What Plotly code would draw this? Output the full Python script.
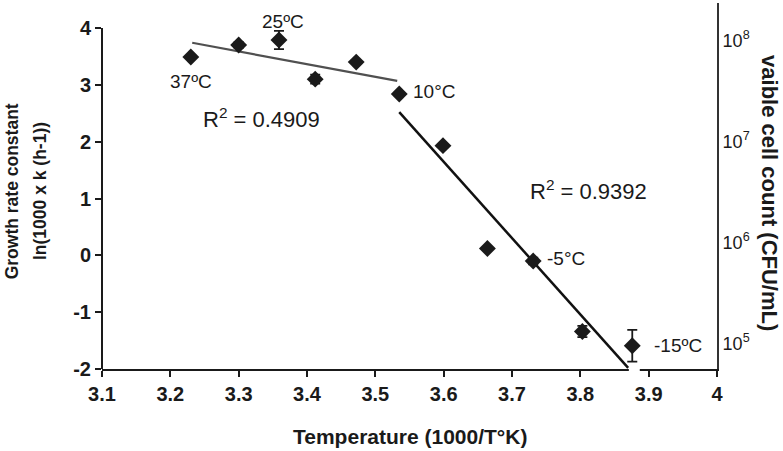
import plotly.graph_objects as go

# 1000/T (K) against ln(1000 x k)
inv_temp = [3.230, 3.300, 3.359, 3.412, 3.472, 3.535, 3.599, 3.664, 3.731, 3.803, 3.876]
ln_rate = [3.49, 3.70, 3.79, 3.10, 3.40, 2.84, 1.93, 0.12, -0.10, -1.34, -1.59]
rate_err = [0, 0.05, 0.16, 0.08, 0, 0, 0, 0, 0.06, 0.10, 0.28]

# labelled points: index, text, anchor, xshift, yshift
point_labels = [
    (0, '37ºC', 'center', 0, -25),
    (2, '25ºC', 'center', 4, 18),
    (5, '10°C', 'left', 12, 2),
    (8, '-5°C', 'left', 12, 3),
    (10, '-15ºC', 'left', 20, 0),
]

# trend line end points
fit_warm_x = [3.232, 3.532]
fit_warm_y = [3.74, 3.07]
fit_cold_x = [3.535, 3.870]
fit_cold_y = [2.52, -1.98]
r2_text = ['R<sup>2</sup> = 0.4909', 'R<sup>2</sup> = 0.9392']
r2_pos = [(3.333, 2.42), (3.812, 1.15)]

x_ticks = [3.1, 3.2, 3.3, 3.4, 3.5, 3.6, 3.7, 3.8, 3.9, 4.0]
x_tick_text = ['3.1', '3.2', '3.3', '3.4', '3.5', '3.6', '3.7', '3.8', '3.9', '4']
y_ticks = [-2, -1, 0, 1, 2, 3, 4]
y_tick_text = ['-2', '-1', '0', '1', '2', '3', '4']
count_ticks = [1e5, 1e6, 1e7, 1e8]
count_tick_text = ['10<sup>5</sup>', '10<sup>6</sup>', '10<sup>7</sup>', '10<sup>8</sup>']

FONT = 'Liberation Sans, Arial, sans-serif'
INK = '#1a1a1a'

fig = go.Figure()
fig.add_trace(go.Scatter(x=fit_warm_x, y=fit_warm_y, mode='lines',
                         line=dict(color='#505050', width=2.2), showlegend=False))
fig.add_trace(go.Scatter(x=fit_cold_x, y=fit_cold_y, mode='lines',
                         line=dict(color='#111111', width=2.5), showlegend=False))
fig.add_trace(go.Scatter(
    x=inv_temp, y=ln_rate, mode='markers',
    marker=dict(symbol='diamond', size=13, color=INK),
    error_y=dict(type='data', array=rate_err, visible=True, color=INK, thickness=1.8, width=5),
    showlegend=False,
))
# empty trace so the right-hand log axis is drawn
fig.add_trace(go.Scatter(x=[], y=[], yaxis='y2', showlegend=False))

for i, text, anchor, dx, dy in point_labels:
    fig.add_annotation(x=inv_temp[i], y=ln_rate[i], text=text, showarrow=False,
                       xanchor=anchor, xshift=dx, yshift=dy,
                       font=dict(family=FONT, size=19, color=INK))
for text, (px, py) in zip(r2_text, r2_pos):
    fig.add_annotation(x=px, y=py, text=text, showarrow=False,
                       font=dict(family=FONT, size=22, color=INK))

# axis titles
for text, px in (('<b>Growth rate constant</b>', -0.146), ('<b>ln(1000 x k (h-1))</b>', -0.101)):
    fig.add_annotation(xref='paper', yref='paper', x=px, y=0.486, xanchor='center', yanchor='middle',
                       text=text, textangle=-90, showarrow=False,
                       font=dict(family=FONT, size=17.5, color=INK))
fig.add_annotation(xref='paper', yref='paper', x=0.5, y=-0.185, xanchor='center', yanchor='middle',
                   text='<b>Temperature (1000/T°K)</b>', showarrow=False,
                   font=dict(family=FONT, size=21, color=INK))
fig.add_annotation(xref='paper', yref='paper', x=1.085, y=0.48, xanchor='center', yanchor='middle',
                   text='<b>vaible cell count (CFU/mL)</b>', textangle=90,
                   showarrow=False, font=dict(family=FONT, size=22, color=INK))

# left axis line stops at 4, x-axis line has a small break near 3.88
fig.add_shape(type='line', xref='paper', yref='y', x0=0, x1=0, y0=-2, y1=4,
              line=dict(color=INK, width=2))
fig.add_shape(type='line', xref='x', yref='paper', x0=3.871, x1=3.887, y0=0, y1=0,
              line=dict(color='white', width=4))

fig.update_layout(
    width=783, height=451,
    margin=dict(l=102, r=66, t=3, b=82),
    plot_bgcolor='white', paper_bgcolor='white',
    font=dict(family=FONT, color=INK),
    xaxis=dict(range=[3.1, 4.0], tickvals=x_ticks, ticktext=[f'<b>{t}</b>' for t in x_tick_text],
               showgrid=False, zeroline=False, showline=True, linecolor=INK, linewidth=2,
               ticks='outside', ticklen=6, tickwidth=2, tickcolor=INK,
               tickfont=dict(family=FONT, size=20, color=INK)),
    yaxis=dict(range=[-2, 4.44], tickvals=y_ticks, ticktext=[f'<b>{t}</b>' for t in y_tick_text],
               showgrid=False, zeroline=False,
               showline=False, ticks='outside', ticklen=6, tickwidth=2, tickcolor=INK,
               tickfont=dict(family=FONT, size=20, color=INK)),
    yaxis2=dict(type='log', range=[4.745, 8.37], overlaying='y', side='right',
                tickvals=count_ticks, ticktext=count_tick_text, showgrid=False, zeroline=False,
                showline=True, linecolor='#333333', linewidth=2, ticks='',
                tickfont=dict(family=FONT, size=18, color=INK)),
)

fig.write_html('out.html', config={'displayModeBar': False},
               post_script="document.body.style.margin='0';")
